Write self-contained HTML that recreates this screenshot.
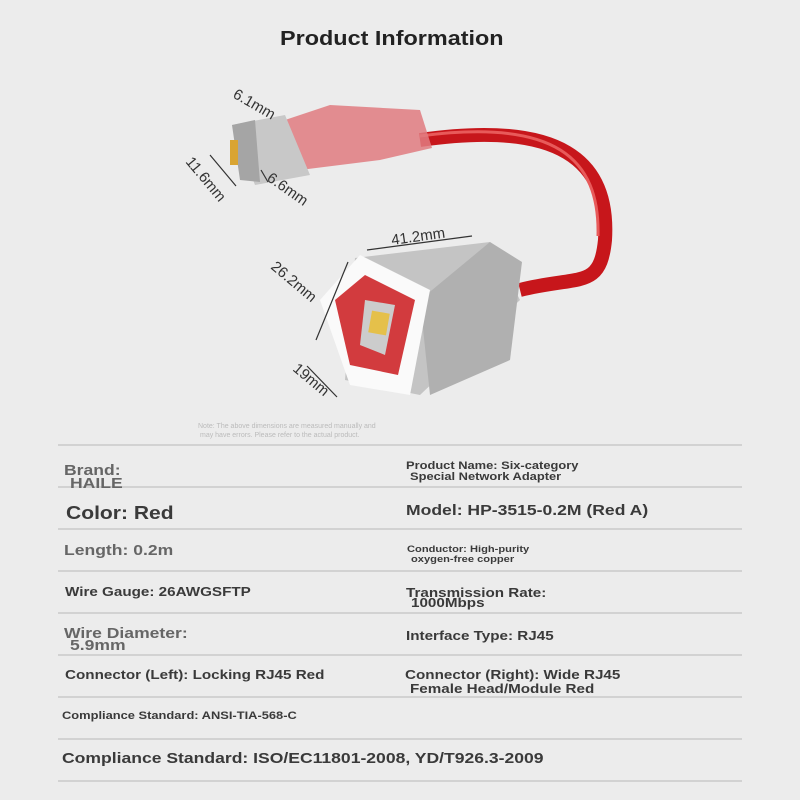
<!DOCTYPE html>
<html><head><style>
body{margin:0;width:800px;height:800px;background:#ececec;overflow:hidden;position:relative;font-family:"Liberation Sans",Arial,sans-serif;}
.t{position:absolute;font-weight:bold;color:#3a3a3a;white-space:nowrap;line-height:1;transform:scaleX(1.17);transform-origin:0 0;}
.l{position:absolute;left:58px;width:684px;height:2px;background:#d2d2d2;}
</style></head><body>
<div class="t" style="left:280px;top:29px;font-size:20px;color:#222">Product Information</div>
<svg width="800" height="440" style="position:absolute;left:0;top:0">
<path d="M420 140 C560 120 610 160 605 240 C600 290 580 275 520 290" stroke="#c7161b" stroke-width="14" fill="none"/>
<path d="M420 136 C555 118 600 158 598 236" stroke="#e85a5a" stroke-width="3" fill="none"/>
<polygon points="285,120 330,105 420,110 432,148 380,160 300,170" fill="#e07b80" opacity="0.85"/>
<polygon points="232,125 285,115 310,175 255,185" fill="#c8c8c8"/>
<polygon points="232,125 255,120 260,182 240,180" fill="#a5a5a5"/>
<rect x="230" y="140" width="8" height="25" fill="#d9a432"/>
<polygon points="355,258 490,242 520,300 420,395 345,380" fill="#c4c4c4"/>
<polygon points="420,300 490,242 522,262 510,360 430,395" fill="#b0b0b0"/>
<polygon points="320,300 360,255 430,290 410,395 350,385" fill="#fafafa"/>
<polygon points="335,300 365,275 415,300 398,375 350,365" fill="#d23b3e"/>
<polygon points="365,300 395,305 385,355 360,345" fill="#ccc"/>
<rect x="370" y="312" width="18" height="22" fill="#e5c04a" transform="rotate(10 379 323)"/>
<g stroke="#333" stroke-width="1.2" fill="none">
<path d="M367 250 L472 236"/><path d="M316 340 L348 262"/><path d="M307 366 L337 397"/>
<path d="M210 155 L236 186"/><path d="M261 170 L268 182"/>
</g>
<g font-family="Liberation Sans,Arial" font-size="15" fill="#333">
<text x="392" y="245" transform="rotate(-8 392 245)">41.2mm</text>
<text x="270" y="268" transform="rotate(40 270 268)">26.2mm</text>
<text x="292" y="370" transform="rotate(40 292 370)">19mm</text>
<text x="232" y="97" transform="rotate(30 232 97)">6.1mm</text>
<text x="185" y="162" transform="rotate(50 185 162)">11.6mm</text>
<text x="266" y="180" transform="rotate(35 266 180)">6.6mm</text>
</g>
<text x="198" y="428" font-size="7" fill="#bbb" font-family="Liberation Sans">Note: The above dimensions are measured manually and</text>
<text x="200" y="437" font-size="7" fill="#bbb" font-family="Liberation Sans">may have errors. Please refer to the actual product.</text>
</svg>
<div class="l" style="top:444px"></div><div class="l" style="top:486px"></div><div class="l" style="top:528px"></div><div class="l" style="top:570px"></div><div class="l" style="top:612px"></div><div class="l" style="top:654px"></div><div class="l" style="top:696px"></div><div class="l" style="top:738px"></div><div class="l" style="top:780px"></div>
<div class="t" style="left:64px;top:463px;font-size:15px;color:#666">Brand:</div>
<div class="t" style="left:70px;top:476px;font-size:15px;color:#666">HAILE</div>
<div class="t" style="left:66px;top:504px;font-size:18px">Color: Red</div>
<div class="t" style="left:64px;top:543px;font-size:15px;color:#666">Length: 0.2m</div>
<div class="t" style="left:65px;top:585px;font-size:13px">Wire Gauge: 26AWGSFTP</div>
<div class="t" style="left:64px;top:626px;font-size:15px;color:#666">Wire Diameter:</div>
<div class="t" style="left:70px;top:638px;font-size:15px;color:#666">5.9mm</div>
<div class="t" style="left:65px;top:668px;font-size:13px">Connector (Left): Locking RJ45 Red</div>
<div class="t" style="left:62px;top:711px;font-size:11px">Compliance Standard: ANSI-TIA-568-C</div>
<div class="t" style="left:62px;top:751px;font-size:15px">Compliance Standard: ISO/EC11801-2008, YD/T926.3-2009</div>
<div class="t" style="left:406px;top:461px;font-size:11px">Product Name: Six-category</div>
<div class="t" style="left:410px;top:472px;font-size:11px">Special Network Adapter</div>
<div class="t" style="left:406px;top:503px;font-size:15px">Model: HP-3515-0.2M (Red A)</div>
<div class="t" style="left:407px;top:545px;font-size:9.5px">Conductor: High-purity</div>
<div class="t" style="left:411px;top:555px;font-size:9.5px">oxygen-free copper</div>
<div class="t" style="left:406px;top:586px;font-size:13px">Transmission Rate:</div>
<div class="t" style="left:411px;top:596px;font-size:13px">1000Mbps</div>
<div class="t" style="left:406px;top:629px;font-size:13px">Interface Type: RJ45</div>
<div class="t" style="left:405px;top:668px;font-size:13px">Connector (Right): Wide RJ45</div>
<div class="t" style="left:410px;top:682px;font-size:13px">Female Head/Module Red</div>
</body></html>
